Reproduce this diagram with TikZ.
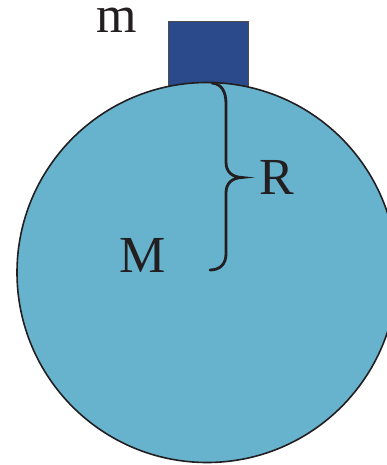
\documentclass[tikz,border=0pt]{standalone}
\usepackage{fontspec}
\setmainfont{Liberation Serif}
\definecolor{ball}{HTML}{67B3CE}
\definecolor{block}{HTML}{2A4A8C}
\definecolor{ink}{HTML}{231F20}
\begin{document}
\begin{tikzpicture}[x=1pt,y=-1pt,
  lbl/.style={text=ink,font=\fontsize{52}{52}\selectfont,inner sep=0pt,anchor=base}]
\useasboundingbox (0,0) rectangle (387,465);
\clip (0,0) rectangle (387,465);
\draw[fill=block,draw=ink!80,line width=1pt] (168,22) rectangle (248,95);
\draw[fill=ball,draw=ink,line width=1.6pt] (207,272.5) circle (190);
\draw[ink,line width=2.8pt,line cap=round]
  (212,83) .. controls (222,84) and (226,92) .. (226,104)
  -- (226,162) .. controls (226,172) and (232,177) .. (242,177.5)
  .. controls (232,178) and (226,183) .. (226,193)
  -- (226,254) .. controls (226,264) and (220,270) .. (210,270);
\node[lbl] (m) at (117,33) {m};
\node[lbl] (R) at (277,194) {R};
\node[lbl] (M) at (143,272) {M};
\end{tikzpicture}
\end{document}
